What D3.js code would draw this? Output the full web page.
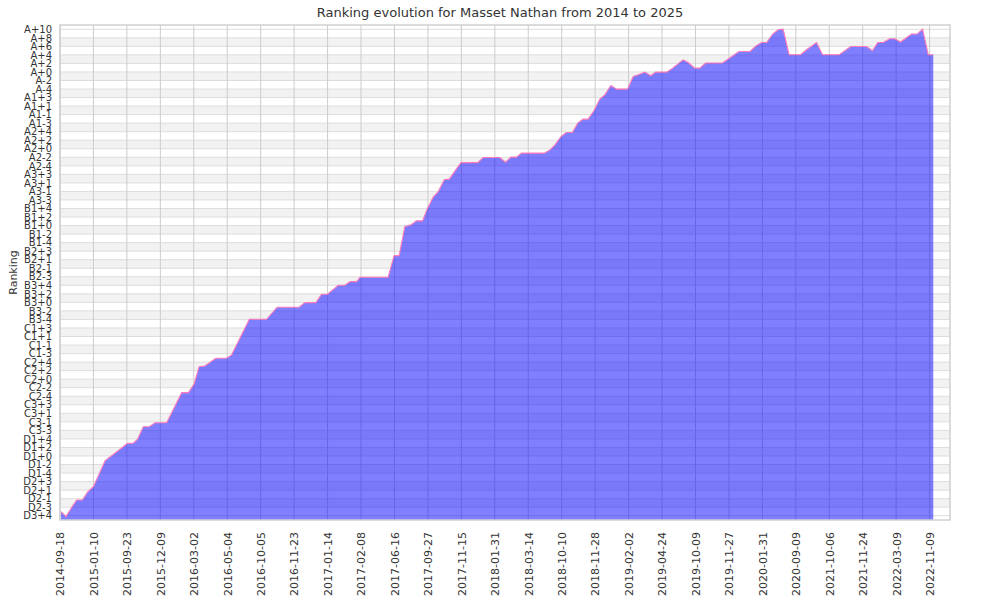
<!DOCTYPE html>
<html>
<head>
<meta charset="utf-8">
<script src="https://cdn.jsdelivr.net/npm/d3@7"></script>
<style>
  html, body { margin: 0; padding: 0; background: #fff; }
  svg { display: block; font-family: "DejaVu Sans", sans-serif; }
</style>
</head>
<body>
<svg id="chart" width="1000" height="600"></svg>
<script>
// Rank labels, bottom (lowest) to top (highest)
const rankLabels = ["D3+4","D2-3","D2-1","D2+1","D2+3","D1-4","D1-2","D1+0","D1+2","D1+4",
  "C3-3","C3-1","C3+1","C3+3","C2-4","C2-2","C2+0","C2+2","C2+4","C1-3","C1-1","C1+1","C1+3",
  "B3-4","B3-2","B3+0","B3+2","B3+4","B2-3","B2-1","B2+1","B2+3","B1-4","B1-2","B1+0","B1+2","B1+4",
  "A3-3","A3-1","A3+1","A3+3","A2-4","A2-2","A2+0","A2+2","A2+4","A1-3","A1-1","A1+1","A1+3",
  "A-4","A-2","A+0","A+2","A+4","A+6","A+8","A+10"];

// Date tick labels along the x axis
const dateLabels = ["2014-09-18","2015-01-10","2015-09-23","2015-12-09","2016-03-02","2016-05-04",
  "2016-10-05","2016-11-23","2017-01-14","2017-02-08","2017-06-16","2017-09-27","2017-11-15",
  "2018-01-31","2018-03-14","2018-10-10","2018-11-28","2019-02-02","2019-04-24","2019-10-09",
  "2019-11-27","2020-01-31","2020-09-09","2021-10-06","2021-11-24","2022-03-09","2022-11-09"];

// Ranking track: position along the date ticks, and rank level (index into rankLabels)
const trackPos = [0.03,0.18,0.35,0.50,0.67,0.83,1.00,1.35,1.64,2.02,2.19,2.32,2.49,2.67,2.84,3.19,
  3.64,3.84,4.01,4.16,4.33,4.66,4.98,5.13,5.66,6.18,6.49,7.15,7.32,7.65,7.82,8.00,8.32,8.52,8.67,8.87,
  8.97,9.81,9.99,10.14,10.31,10.49,10.66,10.84,10.99,11.16,11.31,11.49,11.64,11.81,11.99,12.49,12.65,
  13.15,13.32,13.48,13.65,13.80,14.48,14.65,14.80,14.98,15.13,15.32,15.48,15.64,15.79,15.97,16.14,
  16.29,16.47,16.64,16.97,17.14,17.29,17.49,17.66,17.81,18.14,18.32,18.63,18.78,18.98,19.13,19.30,
  19.81,19.98,20.30,20.63,20.81,20.98,21.13,21.31,21.47,21.62,21.80,22.14,22.32,22.62,22.80,23.30,
  23.64,24.12,24.29,24.45,24.61,24.81,24.96,25.13,25.46,25.63,25.79,25.96,26.11];
const trackRank = [0.47,-0.1,0.98,1.84,1.84,2.81,3.40,6.45,7.32,8.49,8.49,8.96,10.43,10.43,10.90,10.90,
  14.42,14.42,15.44,17.47,17.55,18.45,18.45,18.84,23.02,23.02,24.43,24.43,24.97,24.97,25.96,25.96,27.01,27.01,27.43,27.43,
  27.95,27.95,30.48,30.48,33.88,34.08,34.55,34.55,36.04,37.33,37.98,39.36,39.44,40.41,41.38,41.38,41.97,
  41.97,41.43,42.02,42.02,42.49,42.49,42.87,43.46,44.43,44.90,44.90,46.00,46.47,46.47,47.48,48.82,
  49.32,50.41,49.99,49.99,51.47,51.67,51.98,51.55,51.98,51.98,52.45,53.42,53.11,52.45,52.45,53.04,
  53.04,53.51,54.40,54.40,55.06,55.45,55.45,56.44,56.94,57.02,54.01,54.01,54.60,55.45,54.01,54.01,
  54.98,54.98,54.48,55.45,55.45,55.89,55.89,55.50,56.44,56.44,57.02,54.01,54.01];

const titleText = "Ranking evolution for Masset Nathan from 2014 to 2025";
const yTitle = "Ranking";

const margin = {left: 60, right: 50, top: 25, bottom: 80};
const W = 1000, H = 600;
const svg = d3.select("#chart");

const x = d3.scaleLinear().domain([0, 26.61]).range([margin.left, W - margin.right]);
const y = d3.scaleLinear().domain([-0.5, rankLabels.length - 0.5]).range([H - margin.bottom, margin.top]);

// alternating bands between rank ticks
const bandIdx = d3.range(rankLabels.length - 1).filter(k => k % 2 === 1);
svg.append("g").selectAll("rect").data(bandIdx).join("rect")
  .attr("x", x.range()[0]).attr("width", x.range()[1] - x.range()[0])
  .attr("y", k => y(k + 1)).attr("height", k => y(k) - y(k + 1))
  .attr("fill", "#f2f2f2");

// horizontal grid
svg.append("g").selectAll("line").data(d3.range(rankLabels.length)).join("line")
  .attr("x1", x.range()[0]).attr("x2", x.range()[1])
  .attr("y1", k => y(k)).attr("y2", k => y(k))
  .attr("stroke", "#dddddd").attr("stroke-width", 1);

// vertical grid
svg.append("g").selectAll("line").data(d3.range(dateLabels.length)).join("line")
  .attr("y1", y.range()[0]).attr("y2", y.range()[1])
  .attr("x1", i => x(i)).attr("x2", i => x(i))
  .attr("stroke", "#cccccc").attr("stroke-width", 1);

const pts = trackPos.map((p, i) => [p, trackRank[i]]);

const area = d3.area().x(d => x(d[0])).y0(y.range()[0]).y1(d => y(d[1]));
svg.append("path").datum(pts).attr("d", area)
  .attr("fill", "rgba(0,0,255,0.5)");

const line = d3.line().x(d => x(d[0])).y(d => y(d[1]));
svg.append("path").datum(pts).attr("d", line)
  .attr("fill", "none").attr("stroke", "#ff7ab8").attr("stroke-width", 1.1);

// frame
svg.append("rect")
  .attr("x", x.range()[0]).attr("y", y.range()[1])
  .attr("width", x.range()[1] - x.range()[0]).attr("height", y.range()[0] - y.range()[1])
  .attr("fill", "none").attr("stroke", "#d0d0d0").attr("stroke-width", 1.5);

// y axis labels
const yAxis = d3.axisLeft(y).tickValues(d3.range(rankLabels.length))
  .tickFormat(k => rankLabels[k]).tickSize(0).tickPadding(8);
const gy = svg.append("g").attr("transform", `translate(${margin.left},0)`).call(yAxis);
gy.select(".domain").remove();
gy.selectAll("text").attr("font-size", 10).attr("fill", "#333").attr("font-family", "DejaVu Sans");

// x axis labels
const xAxis = d3.axisBottom(x).tickValues(d3.range(dateLabels.length))
  .tickFormat(i => dateLabels[i]).tickSize(0);
const gx = svg.append("g").attr("transform", `translate(0,${y.range()[0]})`).call(xAxis);
gx.select(".domain").remove();
gx.selectAll("text")
  .attr("font-size", 11).attr("fill", "#333").attr("font-family", "DejaVu Sans")
  .attr("text-anchor", "end").attr("dy", "0.35em")
  .attr("transform", "translate(0,12) rotate(-90)").attr("y", 0).attr("x", 0);

// titles
svg.append("text").attr("x", 500).attr("y", 17).attr("text-anchor", "middle")
  .attr("font-size", 13).attr("fill", "#333").text(titleText);
svg.append("text").attr("transform", `translate(17,${(y.range()[0] + y.range()[1]) / 2}) rotate(-90)`)
  .attr("text-anchor", "middle").attr("font-size", 11).attr("fill", "#333").text(yTitle);
</script>
</body>
</html>
